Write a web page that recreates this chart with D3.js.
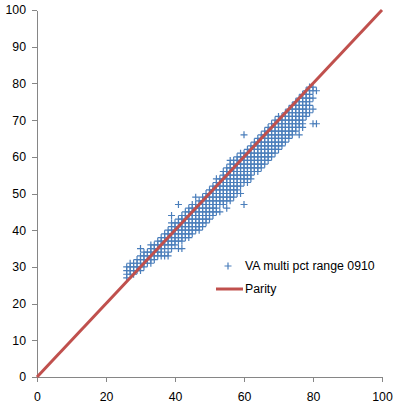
<!DOCTYPE html>
<html lang="en">

<head>
    <meta charset="UTF-8">
    <title>VA multi pct range 0910</title>
    <script src="https://d3js.org/d3.v7.min.js"></script>
    <style>
        body {
            margin: 0;
            background: #fff;
        }

        text {
            font-family: "Liberation Sans", Arial, sans-serif;
            font-size: 12.3px;
            fill: #000;
        }

        .axis path,
        .axis line {
            stroke: #868686;
            stroke-width: 1px;
            shape-rendering: crispEdges;
        }

        .pt {
            fill: none;
            stroke: #4a7ebb;
            stroke-width: 1.2px;
        }

        .parity {
            stroke: #c0504d;
            stroke-width: 3px;
            fill: none;
        }
    </style>
</head>

<body>
    <script>

        // x value of each column of points, and the y values found in that column
        const xCols = [26, 27, 28, 29, 30, 31, 32, 33, 34, 35, 36, 37, 38, 39, 40, 41, 42, 43, 44, 45,
            46, 47, 48, 49, 50, 51, 52, 53, 54, 55, 56, 57, 58, 59, 60, 61, 62, 63, 64, 65,
            66, 67, 68, 69, 70, 71, 72, 73, 74, 75, 76, 77, 78, 79, 80, 81];
        const yCols = [
            [27, 28, 29, 30],
            [28, 29, 30, 31],
            [28, 29, 30, 31],
            [29, 30, 31, 32],
            [29, 30, 31, 32, 33, 35],
            [30, 31, 32, 33, 34],
            [31, 32, 33, 34],
            [31, 32, 33, 34, 35, 36],
            [32, 33, 34, 35, 36],
            [33, 34, 35, 36, 37],
            [33, 34, 35, 36, 37, 38],
            [33, 35, 36, 37, 38, 39],
            [33, 34, 36, 37, 38, 39, 40],
            [35, 36, 37, 38, 39, 40, 41, 42, 44],
            [36, 37, 38, 39, 40, 41, 42],
            [35, 37, 38, 39, 40, 41, 42, 43, 47],
            [35, 37, 38, 39, 40, 41, 42, 43, 44],
            [38, 39, 40, 41, 42, 43, 44, 45],
            [38, 39, 40, 41, 42, 43, 44, 45, 46],
            [39, 40, 41, 42, 43, 44, 45, 46, 47],
            [40, 41, 42, 43, 44, 45, 46, 47, 49],
            [40, 41, 42, 43, 44, 45, 46, 47, 48],
            [41, 42, 43, 44, 45, 46, 47, 48, 49],
            [42, 43, 44, 45, 46, 47, 48, 49, 50],
            [43, 44, 45, 46, 47, 48, 49, 50, 51],
            [44, 45, 46, 47, 48, 49, 50, 51, 52],
            [45, 46, 47, 48, 49, 50, 51, 52, 53, 54],
            [45, 47, 48, 49, 50, 51, 52, 53, 54],
            [47, 48, 49, 50, 51, 52, 53, 54, 55, 56],
            [46, 48, 49, 50, 51, 52, 53, 54, 55, 56, 57],
            [48, 49, 50, 51, 52, 53, 54, 55, 56, 57, 58, 59],
            [49, 50, 51, 52, 53, 54, 55, 56, 57, 58, 59],
            [50, 51, 52, 53, 54, 55, 56, 57, 58, 59, 60],
            [50, 52, 53, 54, 55, 56, 57, 58, 59, 60, 61],
            [47, 53, 54, 55, 56, 57, 58, 59, 60, 61, 66],
            [53, 54, 55, 56, 57, 58, 59, 60, 61, 62],
            [54, 55, 56, 57, 58, 59, 60, 61, 62, 63],
            [56, 57, 58, 59, 60, 61, 62, 63, 64],
            [56, 57, 58, 59, 60, 61, 62, 63, 64, 65],
            [57, 58, 59, 60, 61, 62, 63, 64, 65, 66],
            [58, 59, 60, 61, 62, 63, 64, 65, 66, 67],
            [59, 60, 61, 62, 63, 64, 65, 66, 67, 68],
            [60, 61, 62, 63, 64, 65, 66, 67, 68, 69],
            [61, 62, 63, 64, 65, 66, 67, 68, 69, 70],
            [62, 63, 64, 65, 66, 67, 68, 69, 70, 71],
            [63, 64, 65, 66, 67, 68, 69, 70, 71],
            [64, 65, 66, 67, 68, 69, 70, 71, 72],
            [65, 66, 67, 68, 69, 70, 71, 72, 73],
            [66, 67, 68, 69, 70, 71, 72, 73, 74],
            [67, 68, 69, 70, 71, 72, 73, 74, 75],
            [66, 68, 69, 70, 71, 72, 73, 74, 75, 76],
            [68, 69, 70, 71, 72, 73, 74, 75, 76, 77],
            [71, 72, 73, 74, 75, 76, 77, 78],
            [72, 74, 75, 76, 77, 78, 79],
            [69, 73, 76, 78, 79],
            [69, 78]
        ];

        const parityX = [0, 100];
        const parityY = [0, 100];

        const xTicks = [0, 20, 40, 60, 80, 100];
        const yTicks = [0, 10, 20, 30, 40, 50, 60, 70, 80, 90, 100];

        const seriesName = "VA multi pct range 0910";
        const lineName = "Parity";

        // flatten columns into points
        const points = [];
        xCols.forEach((x, i) => {
            yCols[i].forEach(y => points.push({ x: x, y: y }));
        });

        const width = 399, height = 406;

        const svg = d3.select("body").append("svg")
            .attr("width", width)
            .attr("height", height);

        const x = d3.scaleLinear().domain([0, 100]).range([37, 382]);
        const y = d3.scaleLinear().domain([0, 100]).range([377, 10]);

        // axes
        svg.append("g")
            .attr("class", "axis")
            .attr("transform", "translate(" + x(0) + ",0)")
            .call(d3.axisLeft(y).tickValues(yTicks).tickSize(5).tickSizeOuter(0).tickPadding(6));

        svg.append("g")
            .attr("class", "axis")
            .attr("transform", "translate(0," + y(0) + ")")
            .call(d3.axisBottom(x).tickValues(xTicks).tickSize(5).tickSizeOuter(0).tickPadding(10));

        svg.selectAll(".axis text")
            .style("font-family", '"Liberation Sans", Arial, sans-serif')
            .style("font-size", "12.3px")
            .attr("fill", "#000");

        const plus = "M-3.5,0H3.5M0,-3.5V3.5";

        // scatter points
        svg.append("g")
            .selectAll("path")
            .data(points)
            .enter().append("path")
            .attr("class", "pt")
            .attr("d", plus)
            .attr("transform", d => "translate(" + x(d.x) + "," + y(d.y) + ")");

        // parity line
        svg.append("line")
            .attr("class", "parity")
            .attr("x1", x(parityX[0]))
            .attr("y1", y(parityY[0]))
            .attr("x2", x(parityX[1]))
            .attr("y2", y(parityY[1]));

        // legend
        const legend = svg.append("g");

        legend.append("path")
            .attr("class", "pt")
            .attr("d", plus)
            .attr("transform", "translate(228,266)");

        legend.append("text")
            .attr("x", 245)
            .attr("y", 266)
            .attr("dy", "0.35em")
            .text(seriesName);

        legend.append("line")
            .attr("class", "parity")
            .attr("x1", 216)
            .attr("x2", 243)
            .attr("y1", 289)
            .attr("y2", 289);

        legend.append("text")
            .attr("x", 245)
            .attr("y", 289)
            .attr("dy", "0.35em")
            .text(lineName);

    </script>
</body>

</html>
